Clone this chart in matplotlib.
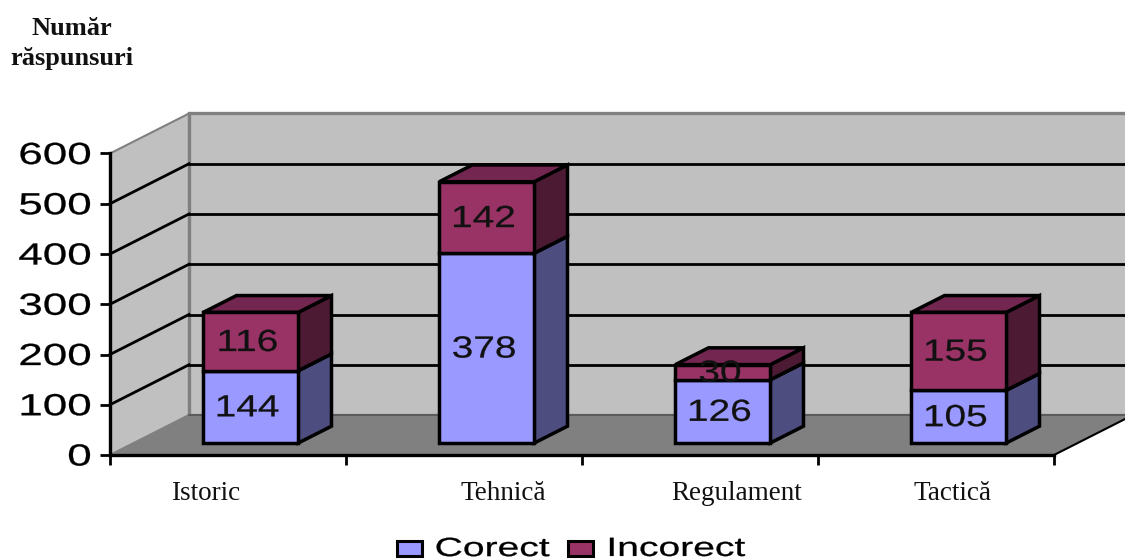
import matplotlib
matplotlib.use("Agg")
import matplotlib.pyplot as plt
from matplotlib.colors import to_rgba
from matplotlib.font_manager import FontProperties
from matplotlib.patches import Polygon, Rectangle
from matplotlib.text import Text
from matplotlib.textpath import TextPath
from matplotlib.transforms import Affine2D, Bbox

# Chart data
categories = ["Istoric", "Tehnică", "Regulament", "Tactică"]
corect = [144, 378, 126, 105]
incorect = [116, 142, 30, 155]
y_ticks = [0, 100, 200, 300, 400, 500, 600]
series_names = ["Corect", "Incorect"]

# Colours
WALL = "#c0c0c0"
FLOOR = "#808080"
CORECT_FACE, CORECT_SIDE, CORECT_TOP = "#9999ff", "#4d4d80", "#7373bf"
INCORECT_FACE, INCORECT_SIDE, INCORECT_TOP = "#993366", "#4d1a33", "#732650"

W, H = 1125, 560
PX_LEFT, PX_RIGHT, PX_ZERO, PX_MAX = 110, 1054, 455, 153.5

# Oblique projection: one unit of depth moves a point this far in data units
DEPTH_X = 79 / ((PX_RIGHT - PX_LEFT) / len(categories))
DEPTH_Y = 40 / ((PX_ZERO - PX_MAX) / y_ticks[-1])
BAR_D0, BAR_D1 = 0.30, 0.72
BAR_X0, BAR_W = 0.295, 0.4025

# Horizontal nudges of the category captions, in pixels from the band centre
CAPTION_NUDGE = [-22, 39, 37, 17]


def fx(x):
    return x / W


def fy(y):
    return 1 - y / H


def proj(x, y, d=0.0):
    return (x + d * DEPTH_X, y + d * DEPTH_Y)


class WideText(Text):
    """Text drawn from its outline, widened horizontally."""

    def __init__(self, x, y, s, widen=1.5, ha="center", **kw):
        super().__init__(x, y, s, ha=ha, va="center", **kw)
        self._widen = widen

    def _outline(self):
        fp = self.get_fontproperties()
        path = TextPath((0, 0), self.get_text(), size=fp.get_size_in_points(), prop=fp)
        scale = self.get_figure().dpi / 72
        box = path.get_extents()
        ax_ = box.x1 if self.get_ha() == "right" else (box.x0 + box.x1) / 2
        cx, cy = self.get_transform().transform(self.get_unitless_position())
        return path, (
            Affine2D()
            .translate(-ax_, -(box.y0 + box.y1) / 2)
            .scale(scale * self._widen, scale)
            .translate(cx, cy)
        )

    def get_window_extent(self, renderer=None, dpi=None):
        path, tr = self._outline()
        return Bbox(path.transformed(tr).get_extents().get_points())

    def draw(self, renderer):
        if not self.get_visible():
            return
        path, tr = self._outline()
        gc = renderer.new_gc()
        gc.set_foreground(self.get_color())
        gc.set_linewidth(0.2)
        renderer.draw_path(gc, path, tr, rgbFace=to_rgba(self.get_color()))
        gc.restore()


fig = plt.figure(figsize=(W / 100, H / 100), dpi=100, facecolor="white")
ax = fig.add_axes([fx(PX_LEFT), fy(PX_ZERO), (PX_RIGHT - PX_LEFT) / W, (PX_ZERO - PX_MAX) / H])
n = len(categories)
top = y_ticks[-1]
ax.set_xlim(0, n)
ax.set_ylim(0, top)
ax.patch.set_visible(False)
for side in ("top", "right"):
    ax.spines[side].set_visible(False)
for side in ("left", "bottom"):
    ax.spines[side].set_linewidth(2.4)
    ax.spines[side].set_zorder(8)
ax.set_xticks(range(n + 1))
ax.set_yticks(y_ticks)
ax.tick_params(axis="both", labelbottom=False, labelleft=False, width=2, length=7, zorder=8)


def poly(points, face, edge="none", lw=0.0, z=2):
    ax.add_patch(Polygon(points, closed=True, facecolor=face, edgecolor=edge,
                         linewidth=lw, zorder=z, clip_on=False, joinstyle="miter"))


# Walls and floor
poly([proj(0, 0), proj(0, top), proj(0, top, 1), proj(0, 0, 1)], WALL, FLOOR, 1.5)
poly([proj(0, 0, 1), proj(0, top, 1), proj(n + 0.4, top, 1), proj(n + 0.4, 0, 1)], WALL, FLOOR, 2.4)
poly([proj(0, 0), proj(n, 0), proj(n, 0, 1), proj(0, 0, 1)], FLOOR, "none", 0)
ax.plot(*zip(proj(0, 0, 1), proj(n, 0, 1)), color="#555555", lw=1.2, zorder=3, clip_on=False)
ax.plot(*zip(proj(n, 0), proj(n, 0, 1)), color="black", lw=1.5, zorder=3, clip_on=False)

# Gridlines run along the side wall, then across the back wall
for v in y_ticks[1:-1]:
    ax.plot(*zip(proj(0, v), proj(0, v, 1)), color="black", lw=2, zorder=3, clip_on=False)
    ax.plot(*zip(proj(0, v, 1), proj(n + 0.4, v, 1)), color="black", lw=2, zorder=3, clip_on=False)

# Stacked blocks standing on the floor
for i in range(n):
    x0, x1 = i + BAR_X0, i + BAR_X0 + BAR_W
    stacks = [
        (0, corect[i], CORECT_FACE, CORECT_SIDE, CORECT_TOP),
        (corect[i], corect[i] + incorect[i], INCORECT_FACE, INCORECT_SIDE, INCORECT_TOP),
    ]
    for low, high, face, side, lid in stacks:
        style = dict(edge="black", lw=2.5, z=4)
        poly([proj(x1, low, BAR_D0), proj(x1, high, BAR_D0), proj(x1, high, BAR_D1), proj(x1, low, BAR_D1)], side, **style)
        poly([proj(x0, high, BAR_D0), proj(x1, high, BAR_D0), proj(x1, high, BAR_D1), proj(x0, high, BAR_D1)], lid, **style)
        poly([proj(x0, low, BAR_D0), proj(x1, low, BAR_D0), proj(x1, high, BAR_D0), proj(x0, high, BAR_D0)], face, **style)

sans = FontProperties(family="Liberation Sans", size=22)
sans_legend = FontProperties(family="Liberation Sans", size=19)

# Values on the bar fronts
for i in range(n):
    xc = i + BAR_X0 + BAR_W / 2 - 0.012
    for low, value in ((0, corect[i]), (corect[i], incorect[i])):
        xy = proj(xc, low + value / 2 + 2, BAR_D0)
        ax.add_artist(WideText(xy[0], xy[1], str(value), widen=1.27, color="#111111",
                               fontproperties=sans, zorder=6, transform=ax.transData, clip_on=False))

# Value axis labels
for v in y_ticks:
    ax.add_artist(WideText(-20 / (PX_RIGHT - PX_LEFT), v, str(v), widen=1.44, ha="right", color="black",
                           fontproperties=sans, transform=ax.get_yaxis_transform(), clip_on=False))

# Category captions
band = (PX_RIGHT - PX_LEFT) / n
for i, name in enumerate(categories):
    fig.text(fx(PX_LEFT + band * (i + 0.5) + CAPTION_NUDGE[i]), fy(500), name, ha="center", va="baseline",
             family="Liberation Serif", fontsize=19.5, color="#111111")

# Axis title
fig.text(fx(72), fy(35), "Număr", ha="center", va="baseline", family="Liberation Serif",
         fontweight="bold", fontsize=19, color="#111111")
fig.text(fx(72), fy(65), "răspunsuri", ha="center", va="baseline", family="Liberation Serif",
         fontweight="bold", fontsize=19, color="#111111")

# Legend
for left, name, face, text_x in ((397, series_names[0], CORECT_FACE, 493),
                                 (568, series_names[1], INCORECT_FACE, 677.5)):
    fig.add_artist(Rectangle((fx(left), fy(556)), 25 / W, 15 / H, transform=fig.transFigure,
                             facecolor=face, edgecolor="black", linewidth=2.2))
    fig.add_artist(WideText(fx(text_x), fy(547), name, widen=1.48, color="black", fontproperties=sans_legend,
                            transform=fig.transFigure))

fig.savefig("out.png", dpi=100, facecolor="white")
